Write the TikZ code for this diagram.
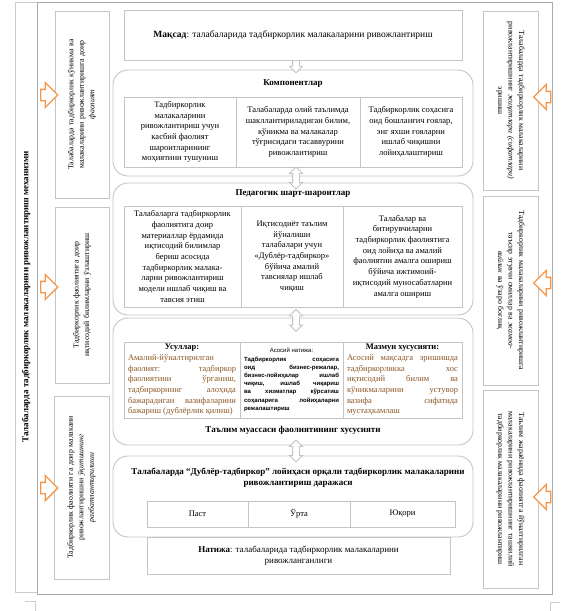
\documentclass[tikz,border=0pt]{standalone}
\usepackage{fontspec}
\setmainfont{Liberation Serif}
\newfontfamily\notesans{Liberation Sans}
\usetikzlibrary{shapes.arrows}
\definecolor{arroworange}{RGB}{247,150,70}
\definecolor{methbrown}{RGB}{140,85,35}
\definecolor{boxgray}{RGB}{196,196,196}
\tikzstyle{cell} = [draw=boxgray, line width=0.9pt, inner sep=2pt, align=center, font=\fontsize{8.5}{10.7}\selectfont]
\tikzstyle{sidecell} = [draw=boxgray, line width=0.9pt, inner sep=2pt, align=center, font=\fontsize{7.8}{10.5}\selectfont]
\tikzstyle{panel} = [draw=boxgray, line width=0.9pt, rounded corners=15pt]
\tikzstyle{headline} = [font=\fontsize{9}{11}\selectfont\bfseries, align=center]
\tikzstyle{sidearrow} = [single arrow, draw=arroworange, line width=1.3pt, fill=white, inner sep=5pt, minimum height=17pt, single arrow head extend=7pt]
\tikzstyle{midarrow} = [single arrow, draw=boxgray, line width=0.9pt, fill=white, inner sep=3pt, minimum height=12pt, single arrow head extend=3pt, shape border rotate=270]
\tikzstyle{twoway} = [double arrow, draw=boxgray, line width=0.9pt, fill=white, inner sep=3pt, minimum height=22pt, double arrow head extend=3pt, shape border rotate=90]

\begin{document}
\begin{tikzpicture}[x=1pt,y=-1pt]
  \useasboundingbox (0,0) rectangle (563,611);
  \draw[gray!40] (15,2) rectangle (37,592);
  \draw[gray!65, line width=0.9pt] (37,2) rectangle (552,594);
  \draw[gray!40] (25,601) -- (35,601) -- (35,611);
  \draw[gray!40] (560,602) -- (550,602) -- (550,611);
  \node[headline, rotate=90] (mech) at (26,297) {Талабаларда тадбиркорлик малакаларини ривожлантириш механизми};

  \node[sidecell, rotate=90, minimum width=187, minimum height=54, text width=180] (left1) at (82,104.5)
    {Талабаларда тадбиркорлик кўникма ва\\малакаларини ривожлантиришга доир\\\textit{фаолият}};
  \node[sidecell, rotate=90, minimum width=176, minimum height=54, text width=170] (left2) at (82,295)
    {Тадбиркорлик фаолиятига доир\\иқтисодий билимларни ўзлаштириш};
  \node[sidecell, rotate=90, minimum width=183, minimum height=55, text width=177] (left3) at (81.5,487.5)
    {Тадбиркорлик фаолияти га доир малакани\\ривожлантиришни \textit{ўқитишнинг}\\\textit{рағбатлантирилиши}};
  \node[sidecell, rotate=-90, minimum width=179, minimum height=55, text width=173] (right1) at (510.5,100.5)
    {Талабаларда тадбиркорлик малакаларини\\ривожлантиришнинг \textit{жиҳатлари (сифатлари)}\\эришиш};
  \node[sidecell, rotate=-90, minimum width=189, minimum height=55, text width=183] (right2) at (510.5,290.5)
    {Тадбиркорлик малакаларини ривожлантиришга\\таъсир этувчи омиллар ва \textit{жамоа-}\\\textit{вийлик} ва ўзаро боғлиқ};
  \node[sidecell, rotate=-90, minimum width=198, minimum height=55, text width=192] (right3) at (510.5,489)
    {Таълим жараёнида фаолиятга йўналтирилган\\малакаларини ривожлантиришнинг ташкилий\\тадбиркорлик малакаларини ривожлантириш};
  \node[sidearrow] (inl1) at (46.5,95) {};
  \node[sidearrow] (inl2) at (46.5,287) {};
  \node[sidearrow] (inl3) at (46.5,488) {};
  \node[sidearrow, shape border rotate=180] (inr1) at (545,97) {};
  \node[sidearrow, shape border rotate=180] (inr2) at (545,283) {};
  \node[sidearrow, shape border rotate=180] (inr3) at (545,497) {};

  \node[cell, minimum width=338, minimum height=50, font=\fontsize{9.5}{11.5}\selectfont] (goal) at (293,35)
    {\textbf{Мақсад}: талабаларида тадбиркорлик малакаларини ривожлантириш};

  \node[panel, minimum width=360, minimum height=106] (comp) at (293,123) {};
  \node[headline] (comptitle) at (293,84) {Компонентлар};
  \node[cell, minimum width=112, minimum height=70] (comp1) at (180,132)
    {Тадбиркорлик\\малакаларини\\ривожлантириш учун\\касбий фаолият\\шароитларининг\\моҳиятини тушуниш};
  \node[cell, minimum width=124, minimum height=70] (comp2) at (298,132)
    {Талабаларда олий таълимда\\шакллантириладиган билим,\\кўникма ва малакалар\\тўғрисидаги тасаввурини\\ривожлантириш};
  \node[cell, minimum width=102, minimum height=70] (comp3) at (411,132)
    {Тадбиркорлик соҳасига\\оид бошланғич ғоялар,\\энг яхши ғояларни\\ишлаб чиқишни\\лойиҳалаштириш};

  \node[panel, minimum width=360, minimum height=132] (ped) at (293,249) {};
  \node[headline] (pedtitle) at (293,194) {Педагогик шарт-шароитлар};
  \node[cell, minimum width=117, minimum height=101] (ped1) at (182.5,256.5)
    {Талабаларга тадбиркорлик\\фаолиятига доир\\материаллар ёрдамида\\иқтисодий билимлар\\бериш асосида\\тадбиркорлик малака-\\ларни ривожлантириш\\модели ишлаб чиқиш ва\\тавсия этиш};
  \node[cell, minimum width=102, minimum height=101] (ped2) at (292,256.5)
    {Иқтисодиёт таълим\\йўналиши\\талабалари учун\\«Дублёр-тадбиркор»\\бўйича амалий\\тавсиялар ишлаб\\чиқиш};
  \node[cell, minimum width=119, minimum height=101] (ped3) at (402.5,256.5)
    {Талабалар ва\\битирувчиларни\\тадбиркорлик фаолиятига\\оид лойиҳа ва амалий\\фаолиятни амалга ошириш\\бўйича ижтимоий-\\иқтисодий муносабатларни\\амалга ошириш};

  \node[panel, minimum width=360, minimum height=127] (feat) at (293,381.5) {};
  \node[headline] (feattitle) at (293,430) {Таълим муассаси фаолиятининг хусусияти};
  \node[cell, minimum width=116, minimum height=76, align=justify, text width=108] (feat1) at (182,380)
    {{\centering\textbf{Усуллар:}\par}\color{methbrown}Амалий-йўналтирилган\linebreak фаолият: тадбиркор\linebreak фаолиятини ўрганиш,\linebreak тадбиркорнинг алоҳида\linebreak бажарадиган вазифаларини\linebreak бажариш (дублёрлик қилиш)};
  \node[cell, minimum width=103, minimum height=76, align=justify, text width=95, font=\notesans\bfseries\fontsize{6}{8.2}\selectfont] (feat2) at (291.5,380)
    {{\centering\mdseries Асосий натижа:\par}Тадбиркорлик соҳасига оид бизнес-режалар, бизнес-лойиҳалар ишлаб чиқиш, ишлаб чиқариш ва хизматлар кўрсатиш соҳаларига лойиҳаларни режалаштириш};
  \node[cell, minimum width=119, minimum height=76, align=justify, text width=111] (feat3) at (402.5,380)
    {{\centering\textbf{Мазмун хусусияти:}\par}\color{methbrown}Асосий мақсадга эришишда\linebreak тадбиркорликка хос\linebreak иқтисодий билим ва\linebreak кўникмаларини устувор\linebreak вазифа сифатида\linebreak мустаҳкамлаш};

  \node[panel, minimum width=360, minimum height=81] (level) at (293,496.5) {};
  \node[headline] (leveltitle) at (298,478) {Талабаларда “Дублёр-тадбиркор” лойиҳаси орқали тадбиркорлик малакаларини\\ривожлантириш даражаси};
  \node[cell, minimum width=101, minimum height=26] (low) at (197.5,514) {Паст};
  \node[cell, minimum width=102, minimum height=26] (mid) at (299,514) {Ўрта};
  \node[cell, minimum width=105, minimum height=26] (high) at (402.5,514) {Юқори};
  \node[cell, minimum width=303, minimum height=37, font=\fontsize{9}{11}\selectfont] (result) at (298.5,555.5)
    {\textbf{Натижа}: талабаларида тадбиркорлик малакаларини\\ривожланганлиги};

  \node[midarrow] (goaldown) at (296,65) {};
  \node[twoway] (link1) at (296,178) {};
  \node[twoway] (link2) at (296,320.5) {};
  \node[twoway] (link3) at (296,451) {};
\end{tikzpicture}
\end{document}
